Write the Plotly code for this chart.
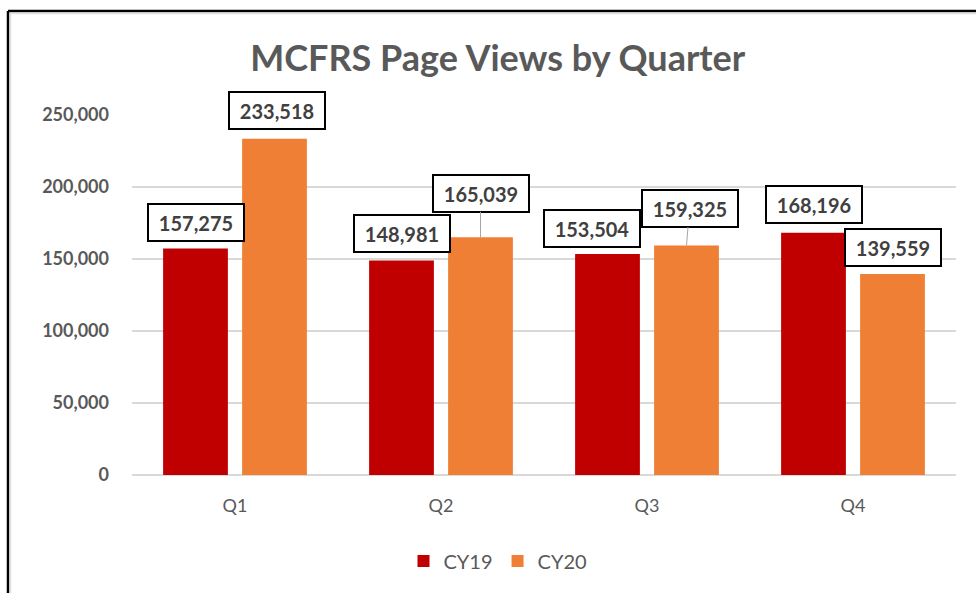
import plotly.graph_objects as go

quarters = ["Q1", "Q2", "Q3", "Q4"]
cy19 = [157275, 148981, 153504, 168196]
cy20 = [233518, 165039, 159325, 139559]
series_names = ["CY19", "CY20"]
y_ticks = [0, 50000, 100000, 150000, 200000, 250000]

# label box offsets (pixels) relative to bar centre / bar top
lab19_dx = [0, 0, -16, 0]
lab19_dy = [26, 27, 25, 28]
lab20_dx = [2, 0, 3, 0]
lab20_dy = [28, 44, 37, 27]
lead20 = [False, True, True, False]

W, H = 976, 593
L, R, T, B = 132, 20, 115, 118
PW, PH = W - L - R, H - T - B
BAR_OFF = 39.5

RED = "#C00000"
ORANGE = "#EF7F34"
GRAY = "#595959"
FONT = "Lato"

fig = go.Figure()
fig.add_trace(go.Bar(x=quarters, y=cy19, name=series_names[0], marker=dict(color=RED, line=dict(width=0))))
fig.add_trace(go.Bar(x=quarters, y=cy20, name=series_names[1], marker=dict(color=ORANGE, line=dict(width=0))))

annotations = []
def add_label(q, v, xshift, dx, dy, lead):
    annotations.append(dict(
        x=q, y=v, xref="x", yref="y", xshift=xshift,
        text=f"{v:,}", showarrow=True, arrowhead=0, arrowwidth=1,
        arrowcolor="#A6A6A6" if lead else "rgba(0,0,0,0)",
        ax=dx, ay=-dy, axref="pixel", ayref="pixel", standoff=0,
        bgcolor="white", bordercolor="black", borderwidth=2, borderpad=2,
        width=90, height=31,
        font=dict(family=FONT, size=20, color="#404040", weight="bold"),
    ))

for i, q in enumerate(quarters):
    add_label(q, cy19[i], -BAR_OFF, lab19_dx[i], lab19_dy[i], False)
    add_label(q, cy20[i], BAR_OFF, lab20_dx[i], lab20_dy[i], lead20[i])

def px2x(px):
    return (px - L) / PW

def px2y(py):
    return (H - B - py) / PH

shapes = [
    dict(type="line", xref="paper", yref="paper", x0=px2x(8), x1=px2x(W + 5), y0=px2y(11), y1=px2y(11),
         line=dict(color="black", width=2.5)),
    dict(type="line", xref="paper", yref="paper", x0=px2x(8), x1=px2x(8), y0=px2y(11), y1=px2y(H + 5),
         line=dict(color="black", width=2.5)),
    dict(type="line", xref="paper", yref="paper", x0=px2x(10), x1=px2x(W + 5), y0=px2y(13.5), y1=px2y(13.5),
         line=dict(color="#E0E0E0", width=1.5)),
    dict(type="line", xref="paper", yref="paper", x0=px2x(10.5), x1=px2x(10.5), y0=px2y(13), y1=px2y(H + 5),
         line=dict(color="#E0E0E0", width=1.5)),
]

fig.update_layout(
    width=W, height=H,
    margin=dict(l=L, r=R, t=T, b=B),
    paper_bgcolor="white", plot_bgcolor="white",
    barmode="group", bargap=0.233, bargroupgap=0.18,
    title=dict(text="MCFRS Page Views by Quarter", x=0.51, xanchor="center", y=1 - 58 / H, yanchor="middle",
               font=dict(family=FONT, size=36, color=GRAY, weight="bold")),
    xaxis=dict(showgrid=False, showline=False, ticks="", ticklabelstandoff=18,
               tickfont=dict(family=FONT, size=18, color=GRAY)),
    yaxis=dict(range=[0, 250000], tickvals=y_ticks, ticktext=[f"{v:,}" for v in y_ticks],
               showgrid=True, gridcolor="#D9D9D9", gridwidth=1.5, zeroline=True, zerolinecolor="#D9D9D9",
               zerolinewidth=1.5, showline=False, ticks="", ticklabelstandoff=22,
               tickfont=dict(family=FONT, size=18, color=GRAY, weight="bold")),
    legend=dict(orientation="h", x=px2x(498), xanchor="center", y=px2y(561), yanchor="middle",
                font=dict(family=FONT, size=20, color=GRAY), itemwidth=30, traceorder="normal"),
    annotations=annotations,
    shapes=shapes,
    showlegend=True,
)

fig.write_html("out.html", config={"displayModeBar": False},
               post_script="document.body.style.margin='0';")
